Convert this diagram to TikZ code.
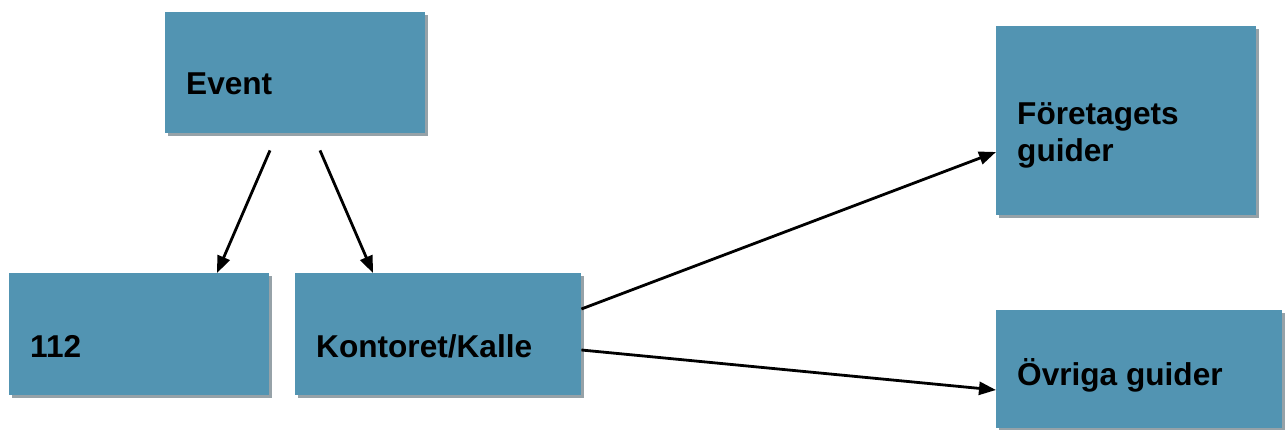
\documentclass[tikz,border=0pt]{standalone}
\usepackage{fontspec}
\setmainfont{Liberation Sans}
\usetikzlibrary{calc,shadows,arrows.meta}
\definecolor{boxblue}{RGB}{82,148,178}
\definecolor{shadowgray}{RGB}{150,162,168}
\tikzset{
  box/.style={draw=none, fill=boxblue, anchor=north west, inner sep=0pt,
    drop shadow={shadow xshift=3pt, shadow yshift=-3pt, fill=shadowgray, opacity=1}},
  lbl/.style={anchor=base west, inner sep=0pt, font=\fontsize{31.6}{37}\selectfont\bfseries, align=left},
  arr/.style={line width=2.8pt, -{Triangle[length=17pt,width=13pt]}}
}
\begin{document}
\begin{tikzpicture}[x=1pt,y=-1pt]
\useasboundingbox (0,0) rectangle (1286,430);
\node[box, minimum width=260pt, minimum height=121pt] (event) at (165,12) {};
\node[box, minimum width=260pt, minimum height=122pt] (n112) at (9,273) {};
\node[box, minimum width=286pt, minimum height=122pt] (kont) at (295,273) {};
\node[box, minimum width=260pt, minimum height=189pt] (fore) at (996,26) {};
\node[box, minimum width=286pt, minimum height=118pt] (ovr) at (996,310) {};

\node[lbl] (tevent) at ($(event.north west)+(21,83)$) {Event};
\node[lbl] (t112) at ($(n112.north west)+(21,85)$) {112};
\node[lbl] (tkont) at ($(kont.north west)+(21,85)$) {Kontoret/Kalle};
\node[lbl] (tfore) at ($(fore.north west)+(21,136)$) {Företagets\\guider};
\node[lbl] (tovr) at ($(ovr.north west)+(21,76)$) {Övriga guider};

\draw[arr] ($(event.south west)+(105,17)$) -- ($(n112.north west)+(208,0)$);
\draw[arr] ($(event.south west)+(155,17)$) -- ($(kont.north west)+(78,0)$);
\draw[arr] ($(kont.north east)+(0,36)$) -- ($(fore.north west)+(0,126)$);
\draw[arr] ($(kont.north east)+(0,77)$) -- ($(ovr.north west)+(0,80)$);
\end{tikzpicture}
\end{document}
